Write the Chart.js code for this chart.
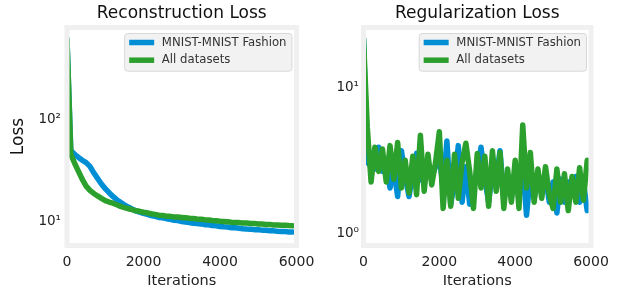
<!DOCTYPE html>
<html><head><meta charset="utf-8">
<script src="https://cdn.jsdelivr.net/npm/chart.js@4.4.0/dist/chart.umd.min.js"></script>
<style>
html,body{margin:0;padding:0;background:#fff;width:618px;height:290px;overflow:hidden}
#c1{position:absolute;left:0;top:0}
#c2{position:absolute;left:310px;top:0}
</style></head><body>
<canvas id="c1" width="330" height="290"></canvas>
<canvas id="c2" width="308" height="290"></canvas>
<script>
const iterations = [0,100,200,300,400,500,600,700,800,900,
  1000,1100,1200,1300,1400,1500,1600,1700,1800,1900,
  2000,2100,2200,2300,2400,2500,2600,2700,2800,2900,
  3000,3100,3200,3300,3400,3500,3600,3700,3800,3900,
  4000,4100,4200,4300,4400,4500,4600,4700,4800,4900,
  5000,5100,5200,5300,5400,5500,5600,5700,5800,5900];
const seriesNames = ['MNIST-MNIST Fashion', 'All datasets'];
const xTicks = [0, 2000, 4000, 6000];

const reconMnist = [590, 48, 44, 41, 38.5, 36.5, 33.5, 29, 25.5, 22.5,
  20.3, 18.5, 17, 15.8, 14.9, 14.1, 13.4, 12.8, 12.3, 11.95,
  11.6, 11.35, 11.05, 10.85, 10.6, 10.5, 10.3, 10.15, 9.95, 9.85,
  9.65, 9.55, 9.45, 9.3, 9.25, 9.15, 9.0, 8.97, 8.82, 8.76,
  8.62, 8.56, 8.52, 8.4, 8.37, 8.3, 8.22, 8.16, 8.12, 8.04,
  8.02, 7.95, 7.92, 7.84, 7.82, 7.75, 7.72, 7.7, 7.64, 7.62];
const reconAll = [590, 44, 36, 30, 25, 21.5, 19.5, 18.2, 17.2, 16.3,
  15.5, 15.0, 14.6, 14.1, 13.6, 13.25, 12.9, 12.65, 12.3, 12.15,
  11.9, 11.75, 11.5, 11.35, 11.15, 11.05, 10.9, 10.85, 10.72, 10.68,
  10.6, 10.52, 10.4, 10.34, 10.24, 10.18, 10.05, 9.98, 9.86, 9.82,
  9.7, 9.67, 9.6, 9.52, 9.46, 9.42, 9.35, 9.32, 9.25, 9.22,
  9.15, 9.12, 9.05, 9.02, 8.95, 8.93, 8.9, 8.86, 8.82, 8.8];

const regMnist = [21, 3.0, 2.8, 2.7, 3.8, 2.6, 2.9, 2.0, 2.7, 1.75,
  3.6, 2.4, 1.75, 2.5, 3.45, 2.3, 2.2, 2.6, 2.4, 2.8,
  3.3, 2.0, 4.2, 1.55, 2.2, 3.9, 1.6, 2.8, 1.55, 2.1,
  2.6, 3.8, 2.3, 1.6, 2.6, 2.2, 3.6, 1.7, 2.3, 1.7,
  2.6, 1.9, 2.8, 1.3, 2.5, 1.7, 2.3, 1.85, 2.4, 1.6,
  2.2, 1.35, 2.3, 1.6, 2.2, 1.8, 2.4, 1.6, 2.2, 1.4];
const regAll = [21, 5.2, 2.2, 3.8, 2.6, 3.7, 2.2, 3.9, 2.3, 4.1,
  2.0, 3.1, 1.85, 3.3, 1.8, 4.6, 1.9, 3.4, 2.1, 3.0,
  4.85, 1.45, 3.1, 1.5, 3.4, 1.7, 3.0, 4.05, 2.6, 1.45,
  3.45, 2.0, 3.3, 1.5, 3.6, 1.9, 3.5, 1.45, 2.7, 1.6,
  3.1, 1.45, 5.4, 2.0, 3.5, 1.6, 2.7, 1.7, 2.8, 1.8,
  1.45, 2.7, 1.6, 2.5, 1.4, 2.4, 1.6, 2.75, 1.65, 3.1];

const FONT = '"DejaVu Sans", sans-serif';
const BLUE = '#008fd5';
const GREEN = '#2ca02c';
const SUP = {'0':'\u2070','1':'\u00b9','2':'\u00b2','3':'\u00b3'};

const framePlugin = {
  id: 'frame',
  afterDatasetsDraw(chart) {
    const {ctx, chartArea: ca} = chart;
    ctx.save();
    ctx.strokeStyle = '#f0f0f0';
    ctx.lineWidth = 5;
    ctx.strokeRect(ca.left, ca.top, ca.right - ca.left, ca.bottom - ca.top);
    ctx.restore();
  }
};
const insetLegend = {
  id: 'insetLegend',
  afterDraw(chart) {
    const {ctx, chartArea: ca} = chart;
    ctx.save();
    ctx.font = '11.7px ' + FONT;
    const ds = chart.data.datasets;
    const tw = Math.max(...ds.map(d => ctx.measureText(d.label).width));
    const w = 37.7 + tw + 5, h = 37.7;
    const x0 = ca.right - 5 - w, y0 = ca.top + 5.5;
    ctx.beginPath();
    ctx.roundRect(x0 + 0.5, y0 + 0.5, w, h, 3);
    ctx.fillStyle = '#f2f2f2';
    ctx.fill();
    ctx.strokeStyle = '#d8d8d8';
    ctx.lineWidth = 1;
    ctx.stroke();
    ds.forEach((d, k) => {
      const y = y0 + 9.5 + k * 17.7;
      ctx.beginPath();
      ctx.moveTo(x0 + 5, y);
      ctx.lineTo(x0 + 30, y);
      ctx.strokeStyle = d.borderColor;
      ctx.lineWidth = 5.5;
      ctx.lineCap = 'butt';
      ctx.stroke();
      ctx.fillStyle = '#333';
      ctx.textBaseline = 'middle';
      ctx.textAlign = 'left';
      ctx.fillText(d.label, x0 + 37.7, y);
    });
    ctx.restore();
  }
};

function pts(arr) { return iterations.map((x, i) => ({x: x, y: arr[i]})); }
function logLabel(v) {
  const l = Math.log10(v);
  if (Math.abs(l - Math.round(l)) > 1e-9) return '';
  return '10' + String(Math.round(l)).split('').map(c => SUP[c]).join('');
}

function makeChart(id, cfg) {
  return new Chart(document.getElementById(id), {
    type: 'line',
    data: {
      datasets: [
        {label: seriesNames[0], data: pts(cfg.a), borderColor: BLUE, backgroundColor: BLUE, order: 1},
        {label: seriesNames[1], data: pts(cfg.b), borderColor: GREEN, backgroundColor: GREEN, order: 0}
      ]
    },
    options: {
      responsive: false, animation: false, devicePixelRatio: 1,
      elements: {
        line: {borderWidth: 5.5, tension: 0, borderJoinStyle: 'round', borderCapStyle: 'round'},
        point: {radius: 0}
      },
      layout: {padding: {left: 0, right: cfg.padRight, top: 0, bottom: 0}},
      plugins: {
        legend: {display: false},
        tooltip: {enabled: false},
        title: {display: true, text: cfg.title, fullSize: false, color: '#111',
          font: {family: FONT, size: 17, weight: 'normal'}, padding: {top: 3, bottom: 4.1}}
      },
      scales: {
        x: {
          type: 'linear', min: 0, max: 6000,
          grid: {display: false, drawTicks: false}, border: {display: false},
          afterBuildTicks: s => { s.ticks = xTicks.map(v => ({value: v})); },
          ticks: {color: '#222', font: {family: FONT, size: 14}, padding: 8.5,
            maxRotation: 0, autoSkip: false, callback: v => String(v)},
          title: {display: true, text: 'Iterations', color: '#222',
            font: {family: FONT, size: 14.5}, padding: {top: 0, bottom: 0}},
          afterFit: s => { s.height = 44.5; }
        },
        y: {
          type: 'logarithmic', min: cfg.yMin, max: cfg.yMax,
          grid: {display: false, drawTicks: false}, border: {display: false},
          ticks: {color: '#222', font: {family: FONT, size: 13.5}, padding: cfg.yPad,
            autoSkip: false, labelOffset: 2, callback: v => logLabel(v)},
          title: {display: cfg.yTitle !== '', text: cfg.yTitle, color: '#111',
            font: {family: FONT, size: 17}, padding: {top: 8.8, bottom: 0}},
          afterFit: s => { s.width = cfg.yWidth; }
        }
      }
    },
    plugins: [framePlugin, insetLegend]
  });
}

makeChart('c1', {title: 'Reconstruction Loss', a: reconMnist, b: reconAll,
  yMin: 5.62, yMax: 771, yWidth: 67, yPad: 6, padRight: 33.5, yTitle: 'Loss'});
makeChart('c2', {title: 'Regularization Loss', a: regMnist, b: regAll,
  yMin: 0.808, yMax: 25.1, yWidth: 53.5, yPad: 4.5, padRight: 27, yTitle: ''});
</script>
</body></html>
